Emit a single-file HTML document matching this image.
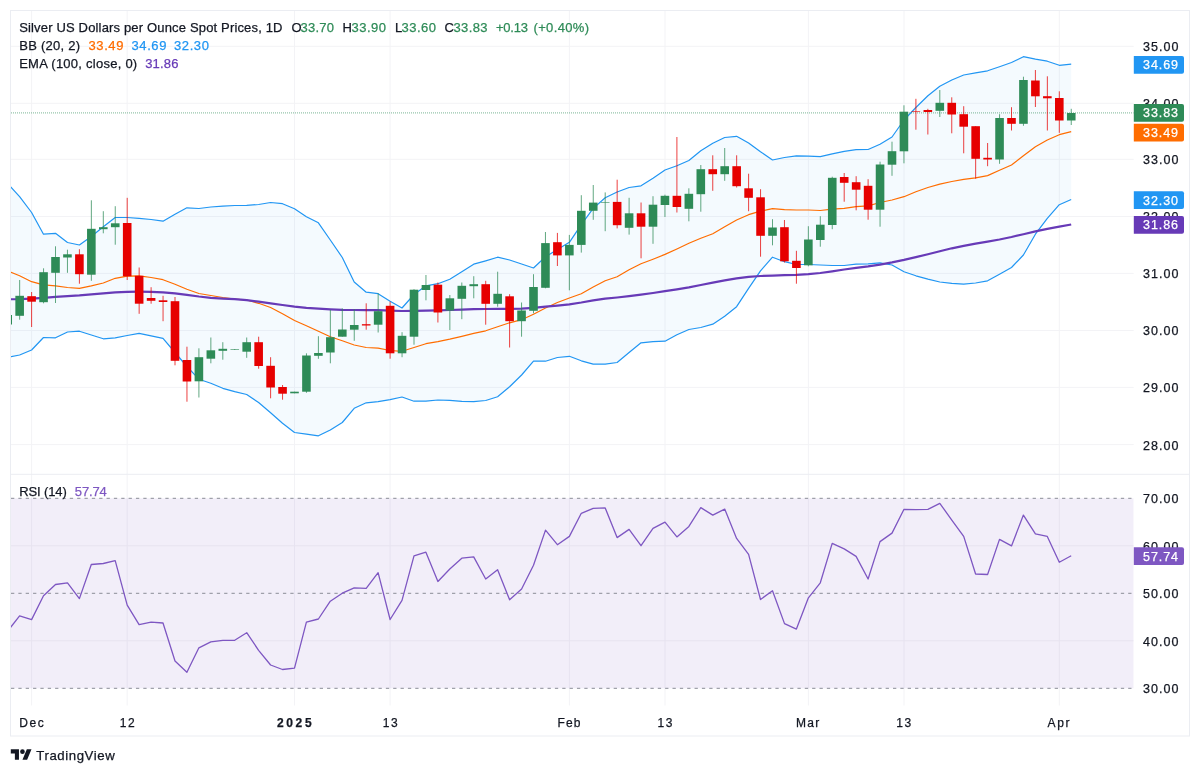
<!DOCTYPE html>
<html lang="en"><head><meta charset="utf-8"><title>Silver US Dollars per Ounce Spot Prices</title>
<style>html,body{margin:0;padding:0;background:#fff}body{width:1200px;height:774px;overflow:hidden}svg{display:block}</style></head>
<body>
<svg width="1200" height="774" viewBox="0 0 1200 774" font-family="'Liberation Sans', sans-serif">
<defs><clipPath id="p1"><rect x="10.5" y="10.5" width="1123.2" height="463.8"/></clipPath><clipPath id="p2"><rect x="10.5" y="474.3" width="1123.2" height="231.2"/></clipPath></defs>
<rect width="1200" height="774" fill="#fff"/>
<path d="M31.6 10.5V705.5M127.2 10.5V705.5M294.5 10.5V705.5M390.1 10.5V705.5M569.4 10.5V705.5M665.0 10.5V705.5M808.4 10.5V705.5M904.0 10.5V705.5M1059.3 10.5V705.5M10.5 444.6H1133.7M10.5 387.4H1133.7M10.5 330.5H1133.7M10.5 273.4H1133.7M10.5 216.5H1133.7M10.5 159.3H1133.7M10.5 103.3H1133.7M10.5 46.3H1133.7M10.5 640.8H1133.7M10.5 545.8H1133.7" stroke="#f3f3f6" stroke-width="1" fill="none"/>
<g clip-path="url(#p1)">
<polygon points="7.7,183.6 19.6,196.7 31.6,212.5 43.5,234.2 55.5,233.3 67.5,242.5 79.4,245.0 91.3,236.5 103.3,226.7 115.2,217.5 127.2,217.5 139.1,218.3 151.1,219.5 163.0,221.2 175.0,214.2 186.9,207.8 198.9,208.5 210.8,207.0 222.8,206.2 234.7,205.5 246.7,205.3 258.6,204.5 270.6,202.5 282.5,203.7 294.5,208.7 306.4,216.7 318.4,222.8 330.3,240.0 342.3,257.5 354.2,282.0 366.2,292.2 378.1,293.7 390.1,301.3 402.0,308.0 414.0,294.5 425.9,285.8 437.9,283.7 449.8,279.2 461.8,271.7 473.7,264.2 485.7,260.8 497.6,257.2 509.6,260.0 521.6,264.0 533.5,268.0 545.5,256.8 557.4,249.6 569.4,242.3 581.3,224.6 593.2,208.4 605.2,197.7 617.1,192.0 629.1,187.5 641.0,185.8 653.0,178.3 665.0,170.0 676.9,165.8 688.9,160.5 700.8,150.8 712.8,143.3 724.7,137.5 736.6,136.3 748.6,143.0 760.5,151.7 772.5,160.0 784.5,157.5 796.4,155.8 808.4,156.2 820.3,156.7 832.2,153.8 844.2,151.3 856.1,149.7 868.1,149.5 880.0,144.2 892.0,137.0 904.0,120.0 915.9,107.5 927.9,95.8 939.8,86.3 951.8,80.0 963.7,75.0 975.6,72.8 987.6,70.8 999.5,66.7 1011.5,62.5 1023.4,56.7 1035.4,59.2 1047.3,61.2 1059.3,65.3 1071.2,64.2 1071.2,199.5 1059.3,204.7 1047.3,218.3 1035.4,234.2 1023.4,255.0 1011.5,267.5 999.5,274.2 987.6,280.8 975.6,283.0 963.7,284.2 951.8,283.3 939.8,282.0 927.9,279.2 915.9,275.8 904.0,271.7 892.0,265.0 880.0,262.8 868.1,263.8 856.1,264.2 844.2,265.5 832.2,265.5 820.3,265.0 808.4,264.5 796.4,264.5 784.5,261.7 772.5,257.2 760.5,270.8 748.6,288.3 736.6,306.7 724.7,316.2 712.8,324.2 700.8,327.5 688.9,329.5 676.9,334.7 665.0,341.2 653.0,341.7 641.0,342.8 629.1,352.5 617.1,362.5 605.2,364.2 593.2,364.2 581.3,360.8 569.4,356.3 557.4,357.5 545.5,361.2 533.5,361.2 521.6,375.0 509.6,386.7 497.6,396.7 485.7,400.5 473.7,401.7 461.8,401.3 449.8,400.3 437.9,400.0 425.9,401.2 414.0,401.2 402.0,397.0 390.1,399.7 378.1,401.7 366.2,402.8 354.2,408.3 342.3,422.5 330.3,430.0 318.4,435.8 306.4,434.2 294.5,432.5 282.5,423.3 270.6,412.8 258.6,402.5 246.7,394.5 234.7,391.7 222.8,388.3 210.8,383.3 198.9,379.2 186.9,366.5 175.0,352.5 163.0,338.3 151.1,335.8 139.1,333.3 127.2,335.5 115.2,337.8 103.3,338.8 91.3,335.0 79.4,331.2 67.5,332.0 55.5,337.8 43.5,337.5 31.6,350.0 19.6,355.0 7.7,357.4" fill="#2196f3" fill-opacity="0.05"/>
<polyline points="7.7,271.0 19.6,275.8 31.6,281.7 43.5,284.9 55.5,285.9 67.5,287.5 79.4,288.3 91.3,285.8 103.3,283.0 115.2,278.3 127.2,276.2 139.1,275.8 151.1,277.5 163.0,279.7 175.0,284.2 186.9,289.2 198.9,293.5 210.8,295.5 222.8,297.5 234.7,299.2 246.7,300.0 258.6,303.3 270.6,307.5 282.5,313.8 294.5,320.5 306.4,325.7 318.4,331.3 330.3,336.7 342.3,340.8 354.2,345.0 366.2,347.5 378.1,348.2 390.1,350.5 402.0,351.3 414.0,347.5 425.9,343.7 437.9,341.7 449.8,339.2 461.8,336.3 473.7,333.3 485.7,330.8 497.6,326.7 509.6,322.8 521.6,319.7 533.5,314.2 545.5,308.0 557.4,302.5 569.4,298.0 581.3,293.7 593.2,287.0 605.2,280.8 617.1,276.7 629.1,269.7 641.0,263.8 653.0,259.2 665.0,254.4 676.9,249.0 688.9,243.3 700.8,238.3 712.8,233.7 724.7,226.7 736.6,220.0 748.6,214.7 760.5,211.2 772.5,208.7 784.5,209.7 796.4,210.0 808.4,210.0 820.3,210.5 832.2,209.2 844.2,208.3 856.1,206.7 868.1,205.8 880.0,202.5 892.0,200.0 904.0,196.7 915.9,191.7 927.9,187.5 939.8,184.2 951.8,181.5 963.7,179.3 975.6,177.9 987.6,175.6 999.5,170.3 1011.5,165.0 1023.4,155.8 1035.4,146.7 1047.3,140.0 1059.3,134.7 1071.2,131.7" fill="none" stroke="#ff6d00" stroke-width="1.2" stroke-linejoin="round" stroke-linecap="butt"/>
<polyline points="7.7,183.6 19.6,196.7 31.6,212.5 43.5,234.2 55.5,233.3 67.5,242.5 79.4,245.0 91.3,236.5 103.3,226.7 115.2,217.5 127.2,217.5 139.1,218.3 151.1,219.5 163.0,221.2 175.0,214.2 186.9,207.8 198.9,208.5 210.8,207.0 222.8,206.2 234.7,205.5 246.7,205.3 258.6,204.5 270.6,202.5 282.5,203.7 294.5,208.7 306.4,216.7 318.4,222.8 330.3,240.0 342.3,257.5 354.2,282.0 366.2,292.2 378.1,293.7 390.1,301.3 402.0,308.0 414.0,294.5 425.9,285.8 437.9,283.7 449.8,279.2 461.8,271.7 473.7,264.2 485.7,260.8 497.6,257.2 509.6,260.0 521.6,264.0 533.5,268.0 545.5,256.8 557.4,249.6 569.4,242.3 581.3,224.6 593.2,208.4 605.2,197.7 617.1,192.0 629.1,187.5 641.0,185.8 653.0,178.3 665.0,170.0 676.9,165.8 688.9,160.5 700.8,150.8 712.8,143.3 724.7,137.5 736.6,136.3 748.6,143.0 760.5,151.7 772.5,160.0 784.5,157.5 796.4,155.8 808.4,156.2 820.3,156.7 832.2,153.8 844.2,151.3 856.1,149.7 868.1,149.5 880.0,144.2 892.0,137.0 904.0,120.0 915.9,107.5 927.9,95.8 939.8,86.3 951.8,80.0 963.7,75.0 975.6,72.8 987.6,70.8 999.5,66.7 1011.5,62.5 1023.4,56.7 1035.4,59.2 1047.3,61.2 1059.3,65.3 1071.2,64.2" fill="none" stroke="#2196f3" stroke-width="1.2" stroke-linejoin="round" stroke-linecap="butt"/>
<polyline points="7.7,357.4 19.6,355.0 31.6,350.0 43.5,337.5 55.5,337.8 67.5,332.0 79.4,331.2 91.3,335.0 103.3,338.8 115.2,337.8 127.2,335.5 139.1,333.3 151.1,335.8 163.0,338.3 175.0,352.5 186.9,366.5 198.9,379.2 210.8,383.3 222.8,388.3 234.7,391.7 246.7,394.5 258.6,402.5 270.6,412.8 282.5,423.3 294.5,432.5 306.4,434.2 318.4,435.8 330.3,430.0 342.3,422.5 354.2,408.3 366.2,402.8 378.1,401.7 390.1,399.7 402.0,397.0 414.0,401.2 425.9,401.2 437.9,400.0 449.8,400.3 461.8,401.3 473.7,401.7 485.7,400.5 497.6,396.7 509.6,386.7 521.6,375.0 533.5,361.2 545.5,361.2 557.4,357.5 569.4,356.3 581.3,360.8 593.2,364.2 605.2,364.2 617.1,362.5 629.1,352.5 641.0,342.8 653.0,341.7 665.0,341.2 676.9,334.7 688.9,329.5 700.8,327.5 712.8,324.2 724.7,316.2 736.6,306.7 748.6,288.3 760.5,270.8 772.5,257.2 784.5,261.7 796.4,264.5 808.4,264.5 820.3,265.0 832.2,265.5 844.2,265.5 856.1,264.2 868.1,263.8 880.0,262.8 892.0,265.0 904.0,271.7 915.9,275.8 927.9,279.2 939.8,282.0 951.8,283.3 963.7,284.2 975.6,283.0 987.6,280.8 999.5,274.2 1011.5,267.5 1023.4,255.0 1035.4,234.2 1047.3,218.3 1059.3,204.7 1071.2,199.5" fill="none" stroke="#2196f3" stroke-width="1.2" stroke-linejoin="round" stroke-linecap="butt"/>
<polyline points="7.7,299.3 19.6,299.1 31.6,298.6 43.5,297.8 55.5,296.8 67.5,296.1 79.4,295.4 91.3,294.4 103.3,293.3 115.2,292.4 127.2,291.8 139.1,291.7 151.1,291.8 163.0,292.3 175.0,293.4 186.9,294.9 198.9,296.5 210.8,297.8 222.8,298.6 234.7,299.2 246.7,300.1 258.6,301.6 270.6,303.3 282.5,305.0 294.5,306.6 306.4,307.8 318.4,308.7 330.3,309.4 342.3,309.9 354.2,310.0 366.2,310.1 378.1,310.2 390.1,310.6 402.0,311.0 414.0,310.9 425.9,310.6 437.9,310.3 449.8,310.0 461.8,309.6 473.7,309.2 485.7,309.0 497.6,308.9 509.6,308.8 521.6,308.6 533.5,307.8 545.5,306.7 557.4,305.6 569.4,304.3 581.3,302.5 593.2,300.4 605.2,298.7 617.1,297.5 629.1,296.1 641.0,294.6 653.0,293.0 665.0,291.2 676.9,289.3 688.9,287.3 700.8,285.0 712.8,282.6 724.7,280.4 736.6,278.4 748.6,276.9 760.5,276.0 772.5,275.6 784.5,275.2 796.4,274.8 808.4,274.1 820.3,273.0 832.2,271.3 844.2,269.5 856.1,267.9 868.1,266.4 880.0,264.6 892.0,262.4 904.0,259.9 915.9,257.1 927.9,254.2 939.8,251.2 951.8,248.3 963.7,245.8 975.6,243.6 987.6,241.6 999.5,239.5 1011.5,237.0 1023.4,234.2 1035.4,231.4 1047.3,228.9 1059.3,226.7 1071.2,224.5" fill="none" stroke="#673ab7" stroke-width="2.2" stroke-linejoin="round" stroke-linecap="butt"/>
<path d="M11 112.9H1133.7" stroke="#2e8b57" stroke-opacity="0.5" stroke-width="1.2" stroke-dasharray="1 1"/>
<rect x="7.20" y="312.0" width="1" height="14.0" fill="#2e8b57" fill-opacity="0.75"/>
<rect x="3.40" y="315.0" width="8.6" height="9.5" fill="#2e8b57"/>
<rect x="19.15" y="280.0" width="1" height="39.7" fill="#2e8b57" fill-opacity="0.75"/>
<rect x="15.35" y="295.8" width="8.6" height="20.0" fill="#2e8b57"/>
<rect x="31.10" y="292.0" width="1" height="35.0" fill="#e60000" fill-opacity="0.75"/>
<rect x="27.30" y="296.2" width="8.6" height="5.5" fill="#e60000"/>
<rect x="43.05" y="268.3" width="1" height="35.0" fill="#2e8b57" fill-opacity="0.75"/>
<rect x="39.25" y="272.2" width="8.6" height="30.0" fill="#2e8b57"/>
<rect x="55.00" y="246.3" width="1" height="56.7" fill="#2e8b57" fill-opacity="0.75"/>
<rect x="51.20" y="257.0" width="8.6" height="15.8" fill="#2e8b57"/>
<rect x="66.95" y="249.7" width="1" height="23.1" fill="#2e8b57" fill-opacity="0.75"/>
<rect x="63.15" y="254.3" width="8.6" height="3.2" fill="#2e8b57"/>
<rect x="78.90" y="249.2" width="1" height="34.5" fill="#e60000" fill-opacity="0.75"/>
<rect x="75.10" y="254.3" width="8.6" height="19.9" fill="#e60000"/>
<rect x="90.85" y="200.3" width="1" height="80.5" fill="#2e8b57" fill-opacity="0.75"/>
<rect x="87.05" y="228.8" width="8.6" height="45.9" fill="#2e8b57"/>
<rect x="102.80" y="211.2" width="1" height="22.1" fill="#2e8b57" fill-opacity="0.75"/>
<rect x="99.00" y="227.2" width="8.6" height="2.0" fill="#2e8b57"/>
<rect x="114.75" y="206.2" width="1" height="38.5" fill="#2e8b57" fill-opacity="0.75"/>
<rect x="110.95" y="223.3" width="8.6" height="3.9" fill="#2e8b57"/>
<rect x="126.70" y="197.8" width="1" height="82.2" fill="#e60000" fill-opacity="0.75"/>
<rect x="122.90" y="223.0" width="8.6" height="53.3" fill="#e60000"/>
<rect x="138.65" y="267.5" width="1" height="46.3" fill="#e60000" fill-opacity="0.75"/>
<rect x="134.85" y="275.8" width="8.6" height="27.9" fill="#e60000"/>
<rect x="150.60" y="287.2" width="1" height="16.5" fill="#e60000" fill-opacity="0.75"/>
<rect x="146.80" y="298.0" width="8.6" height="2.8" fill="#e60000"/>
<rect x="162.55" y="295.8" width="1" height="25.4" fill="#e60000" fill-opacity="0.75"/>
<rect x="158.75" y="300.3" width="8.6" height="1.7" fill="#e60000"/>
<rect x="174.50" y="297.0" width="1" height="68.3" fill="#e60000" fill-opacity="0.75"/>
<rect x="170.70" y="301.2" width="8.6" height="59.6" fill="#e60000"/>
<rect x="186.45" y="346.7" width="1" height="55.0" fill="#e60000" fill-opacity="0.75"/>
<rect x="182.65" y="360.0" width="8.6" height="21.5" fill="#e60000"/>
<rect x="198.40" y="348.3" width="1" height="49.2" fill="#2e8b57" fill-opacity="0.75"/>
<rect x="194.60" y="357.2" width="8.6" height="24.1" fill="#2e8b57"/>
<rect x="210.35" y="337.5" width="1" height="25.8" fill="#2e8b57" fill-opacity="0.75"/>
<rect x="206.55" y="350.3" width="8.6" height="8.4" fill="#2e8b57"/>
<rect x="222.30" y="342.2" width="1" height="17.5" fill="#2e8b57" fill-opacity="0.75"/>
<rect x="218.50" y="348.8" width="8.6" height="2.0" fill="#2e8b57"/>
<rect x="234.25" y="349.0" width="1" height="1.0" fill="#2e8b57" fill-opacity="0.75"/>
<rect x="230.45" y="349.0" width="8.6" height="1.0" fill="#2e8b57" fill-opacity="0.6"/>
<rect x="246.20" y="337.5" width="1" height="20.3" fill="#2e8b57" fill-opacity="0.75"/>
<rect x="242.40" y="342.2" width="8.6" height="9.5" fill="#2e8b57"/>
<rect x="258.15" y="336.7" width="1" height="32.0" fill="#e60000" fill-opacity="0.75"/>
<rect x="254.35" y="342.2" width="8.6" height="23.8" fill="#e60000"/>
<rect x="270.10" y="357.2" width="1" height="41.1" fill="#e60000" fill-opacity="0.75"/>
<rect x="266.30" y="365.8" width="8.6" height="21.7" fill="#e60000"/>
<rect x="282.05" y="385.0" width="1" height="14.7" fill="#e60000" fill-opacity="0.75"/>
<rect x="278.25" y="387.0" width="8.6" height="6.7" fill="#e60000"/>
<rect x="294.00" y="391.7" width="1" height="1.6" fill="#2e8b57" fill-opacity="0.75"/>
<rect x="290.20" y="391.7" width="8.6" height="1.6" fill="#2e8b57"/>
<rect x="305.95" y="353.3" width="1" height="39.5" fill="#2e8b57" fill-opacity="0.75"/>
<rect x="302.15" y="355.5" width="8.6" height="36.2" fill="#2e8b57"/>
<rect x="317.90" y="336.2" width="1" height="22.6" fill="#2e8b57" fill-opacity="0.75"/>
<rect x="314.10" y="353.0" width="8.6" height="2.8" fill="#2e8b57"/>
<rect x="329.85" y="310.0" width="1" height="53.3" fill="#2e8b57" fill-opacity="0.75"/>
<rect x="326.05" y="337.2" width="8.6" height="15.3" fill="#2e8b57"/>
<rect x="341.80" y="308.3" width="1" height="28.4" fill="#2e8b57" fill-opacity="0.75"/>
<rect x="338.00" y="329.5" width="8.6" height="7.2" fill="#2e8b57"/>
<rect x="353.75" y="309.0" width="1" height="31.8" fill="#2e8b57" fill-opacity="0.75"/>
<rect x="349.95" y="325.0" width="8.6" height="4.7" fill="#2e8b57"/>
<rect x="365.70" y="303.3" width="1" height="26.4" fill="#e60000" fill-opacity="0.75"/>
<rect x="361.90" y="324.2" width="8.6" height="1.3" fill="#e60000"/>
<rect x="377.65" y="293.3" width="1" height="39.2" fill="#2e8b57" fill-opacity="0.75"/>
<rect x="373.85" y="311.2" width="8.6" height="13.5" fill="#2e8b57"/>
<rect x="389.60" y="301.7" width="1" height="57.0" fill="#e60000" fill-opacity="0.75"/>
<rect x="385.80" y="305.8" width="8.6" height="47.5" fill="#e60000"/>
<rect x="401.55" y="332.2" width="1" height="25.0" fill="#2e8b57" fill-opacity="0.75"/>
<rect x="397.75" y="335.8" width="8.6" height="17.5" fill="#2e8b57"/>
<rect x="413.50" y="289.2" width="1" height="55.5" fill="#2e8b57" fill-opacity="0.75"/>
<rect x="409.70" y="289.7" width="8.6" height="47.0" fill="#2e8b57"/>
<rect x="425.45" y="275.0" width="1" height="25.3" fill="#2e8b57" fill-opacity="0.75"/>
<rect x="421.65" y="285.0" width="8.6" height="5.0" fill="#2e8b57"/>
<rect x="437.40" y="282.5" width="1" height="40.0" fill="#e60000" fill-opacity="0.75"/>
<rect x="433.60" y="284.7" width="8.6" height="27.8" fill="#e60000"/>
<rect x="449.35" y="295.0" width="1" height="35.0" fill="#2e8b57" fill-opacity="0.75"/>
<rect x="445.55" y="298.3" width="8.6" height="12.2" fill="#2e8b57"/>
<rect x="461.30" y="282.5" width="1" height="36.7" fill="#2e8b57" fill-opacity="0.75"/>
<rect x="457.50" y="285.8" width="8.6" height="13.0" fill="#2e8b57"/>
<rect x="473.25" y="276.2" width="1" height="22.1" fill="#2e8b57" fill-opacity="0.75"/>
<rect x="469.45" y="284.2" width="8.6" height="2.0" fill="#2e8b57"/>
<rect x="485.20" y="280.8" width="1" height="43.9" fill="#e60000" fill-opacity="0.75"/>
<rect x="481.40" y="284.2" width="8.6" height="19.6" fill="#e60000"/>
<rect x="497.15" y="271.7" width="1" height="35.0" fill="#2e8b57" fill-opacity="0.75"/>
<rect x="493.35" y="293.8" width="8.6" height="10.0" fill="#2e8b57"/>
<rect x="509.10" y="294.2" width="1" height="53.3" fill="#e60000" fill-opacity="0.75"/>
<rect x="505.30" y="296.3" width="8.6" height="24.9" fill="#e60000"/>
<rect x="521.05" y="302.5" width="1" height="34.2" fill="#2e8b57" fill-opacity="0.75"/>
<rect x="517.25" y="310.5" width="8.6" height="10.7" fill="#2e8b57"/>
<rect x="533.00" y="274.2" width="1" height="39.1" fill="#2e8b57" fill-opacity="0.75"/>
<rect x="529.20" y="287.0" width="8.6" height="23.8" fill="#2e8b57"/>
<rect x="544.95" y="232.0" width="1" height="56.3" fill="#2e8b57" fill-opacity="0.75"/>
<rect x="541.15" y="243.1" width="8.6" height="44.7" fill="#2e8b57"/>
<rect x="556.90" y="232.9" width="1" height="33.1" fill="#e60000" fill-opacity="0.75"/>
<rect x="553.10" y="242.2" width="8.6" height="13.2" fill="#e60000"/>
<rect x="568.85" y="234.9" width="1" height="55.4" fill="#2e8b57" fill-opacity="0.75"/>
<rect x="565.05" y="244.9" width="8.6" height="10.5" fill="#2e8b57"/>
<rect x="580.80" y="195.2" width="1" height="57.4" fill="#2e8b57" fill-opacity="0.75"/>
<rect x="577.00" y="210.8" width="8.6" height="34.1" fill="#2e8b57"/>
<rect x="592.75" y="185.0" width="1" height="34.8" fill="#2e8b57" fill-opacity="0.75"/>
<rect x="588.95" y="202.6" width="8.6" height="8.2" fill="#2e8b57"/>
<rect x="604.70" y="192.4" width="1" height="38.8" fill="#2e8b57" fill-opacity="0.75"/>
<rect x="600.90" y="202.0" width="8.6" height="1.0" fill="#2e8b57" fill-opacity="0.6"/>
<rect x="616.65" y="179.7" width="1" height="48.7" fill="#e60000" fill-opacity="0.75"/>
<rect x="612.85" y="201.9" width="8.6" height="23.3" fill="#e60000"/>
<rect x="628.60" y="197.8" width="1" height="36.8" fill="#2e8b57" fill-opacity="0.75"/>
<rect x="624.80" y="213.3" width="8.6" height="14.5" fill="#2e8b57"/>
<rect x="640.55" y="202.5" width="1" height="55.8" fill="#e60000" fill-opacity="0.75"/>
<rect x="636.75" y="213.3" width="8.6" height="13.4" fill="#e60000"/>
<rect x="652.50" y="196.2" width="1" height="47.6" fill="#2e8b57" fill-opacity="0.75"/>
<rect x="648.70" y="204.7" width="8.6" height="22.0" fill="#2e8b57"/>
<rect x="664.45" y="194.7" width="1" height="22.3" fill="#2e8b57" fill-opacity="0.75"/>
<rect x="660.65" y="195.8" width="8.6" height="9.2" fill="#2e8b57"/>
<rect x="676.40" y="137.0" width="1" height="75.5" fill="#e60000" fill-opacity="0.75"/>
<rect x="672.60" y="195.8" width="8.6" height="11.2" fill="#e60000"/>
<rect x="688.35" y="188.3" width="1" height="33.0" fill="#2e8b57" fill-opacity="0.75"/>
<rect x="684.55" y="193.8" width="8.6" height="15.0" fill="#2e8b57"/>
<rect x="700.30" y="165.0" width="1" height="46.7" fill="#2e8b57" fill-opacity="0.75"/>
<rect x="696.50" y="169.2" width="8.6" height="25.0" fill="#2e8b57"/>
<rect x="712.25" y="155.3" width="1" height="35.5" fill="#e60000" fill-opacity="0.75"/>
<rect x="708.45" y="169.2" width="8.6" height="5.0" fill="#e60000"/>
<rect x="724.20" y="148.0" width="1" height="32.8" fill="#2e8b57" fill-opacity="0.75"/>
<rect x="720.40" y="166.2" width="8.6" height="8.0" fill="#2e8b57"/>
<rect x="736.15" y="155.3" width="1" height="32.2" fill="#e60000" fill-opacity="0.75"/>
<rect x="732.35" y="166.2" width="8.6" height="20.0" fill="#e60000"/>
<rect x="748.10" y="173.7" width="1" height="37.5" fill="#e60000" fill-opacity="0.75"/>
<rect x="744.30" y="188.3" width="8.6" height="9.5" fill="#e60000"/>
<rect x="760.05" y="189.2" width="1" height="67.5" fill="#e60000" fill-opacity="0.75"/>
<rect x="756.25" y="197.3" width="8.6" height="38.5" fill="#e60000"/>
<rect x="772.00" y="219.2" width="1" height="26.1" fill="#2e8b57" fill-opacity="0.75"/>
<rect x="768.20" y="227.5" width="8.6" height="8.3" fill="#2e8b57"/>
<rect x="783.95" y="220.0" width="1" height="42.5" fill="#e60000" fill-opacity="0.75"/>
<rect x="780.15" y="227.2" width="8.6" height="34.1" fill="#e60000"/>
<rect x="795.90" y="250.8" width="1" height="32.9" fill="#e60000" fill-opacity="0.75"/>
<rect x="792.10" y="260.8" width="8.6" height="7.2" fill="#e60000"/>
<rect x="807.85" y="226.2" width="1" height="40.1" fill="#2e8b57" fill-opacity="0.75"/>
<rect x="804.05" y="239.5" width="8.6" height="25.8" fill="#2e8b57"/>
<rect x="819.80" y="216.2" width="1" height="30.5" fill="#2e8b57" fill-opacity="0.75"/>
<rect x="816.00" y="224.7" width="8.6" height="15.3" fill="#2e8b57"/>
<rect x="831.75" y="176.7" width="1" height="52.5" fill="#2e8b57" fill-opacity="0.75"/>
<rect x="827.95" y="177.8" width="8.6" height="47.2" fill="#2e8b57"/>
<rect x="843.70" y="173.0" width="1" height="28.7" fill="#e60000" fill-opacity="0.75"/>
<rect x="839.90" y="177.0" width="8.6" height="5.8" fill="#e60000"/>
<rect x="855.65" y="176.2" width="1" height="34.1" fill="#e60000" fill-opacity="0.75"/>
<rect x="851.85" y="182.2" width="8.6" height="7.5" fill="#e60000"/>
<rect x="867.60" y="179.2" width="1" height="40.5" fill="#e60000" fill-opacity="0.75"/>
<rect x="863.80" y="185.8" width="8.6" height="23.9" fill="#e60000"/>
<rect x="879.55" y="161.7" width="1" height="65.0" fill="#2e8b57" fill-opacity="0.75"/>
<rect x="875.75" y="164.5" width="8.6" height="45.2" fill="#2e8b57"/>
<rect x="891.50" y="141.7" width="1" height="34.1" fill="#2e8b57" fill-opacity="0.75"/>
<rect x="887.70" y="151.2" width="8.6" height="13.5" fill="#2e8b57"/>
<rect x="903.45" y="105.3" width="1" height="58.0" fill="#2e8b57" fill-opacity="0.75"/>
<rect x="899.65" y="111.7" width="8.6" height="39.6" fill="#2e8b57"/>
<rect x="915.40" y="98.8" width="1" height="30.9" fill="#e60000" fill-opacity="0.75"/>
<rect x="911.60" y="111.0" width="8.6" height="1.0" fill="#e60000" fill-opacity="0.6"/>
<rect x="927.35" y="108.8" width="1" height="25.7" fill="#e60000" fill-opacity="0.75"/>
<rect x="923.55" y="110.0" width="8.6" height="2.0" fill="#e60000"/>
<rect x="939.30" y="90.0" width="1" height="27.0" fill="#2e8b57" fill-opacity="0.75"/>
<rect x="935.50" y="102.8" width="8.6" height="8.0" fill="#2e8b57"/>
<rect x="951.25" y="97.3" width="1" height="36.0" fill="#e60000" fill-opacity="0.75"/>
<rect x="947.45" y="102.8" width="8.6" height="11.7" fill="#e60000"/>
<rect x="963.20" y="106.2" width="1" height="47.1" fill="#e60000" fill-opacity="0.75"/>
<rect x="959.40" y="114.2" width="8.6" height="12.5" fill="#e60000"/>
<rect x="975.15" y="126.2" width="1" height="52.5" fill="#e60000" fill-opacity="0.75"/>
<rect x="971.35" y="126.2" width="8.6" height="32.6" fill="#e60000"/>
<rect x="987.10" y="143.0" width="1" height="23.2" fill="#e60000" fill-opacity="0.75"/>
<rect x="983.30" y="157.8" width="8.6" height="1.7" fill="#e60000"/>
<rect x="999.05" y="114.2" width="1" height="49.6" fill="#2e8b57" fill-opacity="0.75"/>
<rect x="995.25" y="118.0" width="8.6" height="41.5" fill="#2e8b57"/>
<rect x="1011.00" y="107.2" width="1" height="23.3" fill="#e60000" fill-opacity="0.75"/>
<rect x="1007.20" y="118.0" width="8.6" height="5.8" fill="#e60000"/>
<rect x="1022.95" y="76.7" width="1" height="49.1" fill="#2e8b57" fill-opacity="0.75"/>
<rect x="1019.15" y="80.0" width="8.6" height="43.8" fill="#2e8b57"/>
<rect x="1034.90" y="70.0" width="1" height="37.0" fill="#e60000" fill-opacity="0.75"/>
<rect x="1031.10" y="80.5" width="8.6" height="15.8" fill="#e60000"/>
<rect x="1046.85" y="76.3" width="1" height="54.2" fill="#e60000" fill-opacity="0.75"/>
<rect x="1043.05" y="96.2" width="8.6" height="2.1" fill="#e60000"/>
<rect x="1058.80" y="91.3" width="1" height="41.5" fill="#e60000" fill-opacity="0.75"/>
<rect x="1055.00" y="98.0" width="8.6" height="22.5" fill="#e60000"/>
<rect x="1070.75" y="108.8" width="1" height="16.2" fill="#2e8b57" fill-opacity="0.75"/>
<rect x="1066.95" y="113.0" width="8.6" height="7.5" fill="#2e8b57"/>
</g>
<g clip-path="url(#p2)">
<rect x="10.5" y="498.3" width="1123.2" height="190.0" fill="#7e57c2" fill-opacity="0.1"/>
<path d="M10.5 498.3H1133.7" stroke="#8a8c97" stroke-width="1" stroke-dasharray="3.3 4.05" stroke-dashoffset="-0.5"/>
<path d="M10.5 593.3H1133.7" stroke="#8a8c97" stroke-width="1" stroke-dasharray="3.3 4.05" stroke-dashoffset="-0.5"/>
<path d="M10.5 688.3H1133.7" stroke="#8a8c97" stroke-width="1" stroke-dasharray="3.3 4.05" stroke-dashoffset="-0.5"/>
<polyline points="7.7,631.0 19.6,615.9 31.6,619.6 43.5,595.8 55.5,584.5 67.5,582.8 79.4,598.6 91.3,564.5 103.3,563.5 115.2,560.7 127.2,605.2 139.1,624.6 151.1,622.1 163.0,623.0 175.0,661.0 186.9,672.2 198.9,647.8 210.8,641.9 222.8,640.3 234.7,640.3 246.7,632.7 258.6,650.3 270.6,665.0 282.5,669.5 294.5,668.2 306.4,622.1 318.4,619.0 330.3,601.2 342.3,593.2 354.2,587.9 366.2,588.3 378.1,572.7 390.1,619.5 402.0,600.3 414.0,555.9 425.9,552.2 437.9,581.5 449.8,569.0 461.8,558.2 473.7,556.9 485.7,579.0 497.6,569.7 509.6,599.8 521.6,589.0 533.5,565.2 545.5,530.1 557.4,544.7 569.4,536.4 581.3,513.3 593.2,508.3 605.2,507.9 617.1,537.6 629.1,529.4 641.0,545.7 653.0,528.4 665.0,522.1 676.9,536.9 688.9,526.4 700.8,507.6 712.8,515.1 724.7,509.1 736.6,538.4 748.6,554.4 760.5,599.5 772.5,590.8 784.5,623.6 796.4,629.1 808.4,597.8 820.3,582.8 832.2,543.4 844.2,548.9 856.1,556.4 868.1,579.0 880.0,541.6 892.0,533.1 904.0,509.3 915.9,509.6 927.9,509.3 939.8,503.3 951.8,520.1 963.7,536.4 975.6,574.0 987.6,574.5 999.5,539.4 1011.5,545.9 1023.4,515.1 1035.4,533.9 1047.3,536.4 1059.3,562.2 1071.2,555.7" fill="none" stroke="#7e57c2" stroke-width="1.3" stroke-linejoin="round" stroke-linecap="butt"/>
</g>
<path d="M10.5 474.3H1189.5" stroke="#ebedf2" stroke-width="1"/>
<rect x="10.5" y="10.5" width="1179.0" height="725.5" fill="none" stroke="#ebedf2" stroke-width="1"/>
<text x="1143.0" y="449.5" font-size="12.5" fill="#131722" stroke="#131722" stroke-width="0.25" textLength="35.4" lengthAdjust="spacing">28.00</text>
<text x="1143.0" y="392.3" font-size="12.5" fill="#131722" stroke="#131722" stroke-width="0.25" textLength="35.4" lengthAdjust="spacing">29.00</text>
<text x="1143.0" y="335.4" font-size="12.5" fill="#131722" stroke="#131722" stroke-width="0.25" textLength="35.4" lengthAdjust="spacing">30.00</text>
<text x="1143.0" y="278.3" font-size="12.5" fill="#131722" stroke="#131722" stroke-width="0.25" textLength="35.4" lengthAdjust="spacing">31.00</text>
<text x="1143.0" y="221.4" font-size="12.5" fill="#131722" stroke="#131722" stroke-width="0.25" textLength="35.4" lengthAdjust="spacing">32.00</text>
<text x="1143.0" y="164.2" font-size="12.5" fill="#131722" stroke="#131722" stroke-width="0.25" textLength="35.4" lengthAdjust="spacing">33.00</text>
<text x="1143.0" y="108.2" font-size="12.5" fill="#131722" stroke="#131722" stroke-width="0.25" textLength="35.4" lengthAdjust="spacing">34.00</text>
<text x="1143.0" y="51.2" font-size="12.5" fill="#131722" stroke="#131722" stroke-width="0.25" textLength="35.4" lengthAdjust="spacing">35.00</text>
<text x="1143.0" y="693.2" font-size="12.5" fill="#131722" stroke="#131722" stroke-width="0.25" textLength="35.4" lengthAdjust="spacing">30.00</text>
<text x="1143.0" y="645.7" font-size="12.5" fill="#131722" stroke="#131722" stroke-width="0.25" textLength="35.4" lengthAdjust="spacing">40.00</text>
<text x="1143.0" y="598.2" font-size="12.5" fill="#131722" stroke="#131722" stroke-width="0.25" textLength="35.4" lengthAdjust="spacing">50.00</text>
<text x="1143.0" y="550.7" font-size="12.5" fill="#131722" stroke="#131722" stroke-width="0.25" textLength="35.4" lengthAdjust="spacing">60.00</text>
<text x="1143.0" y="503.2" font-size="12.5" fill="#131722" stroke="#131722" stroke-width="0.25" textLength="35.4" lengthAdjust="spacing">70.00</text>
<path d="M1133.8 191.2H1182a2 2 0 0 1 2 2V207.0a2 2 0 0 1 -2 2H1133.8z" fill="#2196f3"/>
<text x="1143.0" y="204.5" font-size="12.5" fill="#fff" stroke="#fff" stroke-width="0.25" textLength="35.0" lengthAdjust="spacing">32.30</text>
<path d="M1133.8 216.0H1182a2 2 0 0 1 2 2V231.8a2 2 0 0 1 -2 2H1133.8z" fill="#673ab7"/>
<text x="1143.0" y="229.3" font-size="12.5" fill="#fff" stroke="#fff" stroke-width="0.25" textLength="35.0" lengthAdjust="spacing">31.86</text>
<path d="M1133.8 123.8H1182a2 2 0 0 1 2 2V139.6a2 2 0 0 1 -2 2H1133.8z" fill="#ff6d00"/>
<text x="1143.0" y="137.1" font-size="12.5" fill="#fff" stroke="#fff" stroke-width="0.25" textLength="35.0" lengthAdjust="spacing">33.49</text>
<path d="M1133.8 55.9H1182a2 2 0 0 1 2 2V71.7a2 2 0 0 1 -2 2H1133.8z" fill="#2196f3"/>
<text x="1143.0" y="69.2" font-size="12.5" fill="#fff" stroke="#fff" stroke-width="0.25" textLength="35.0" lengthAdjust="spacing">34.69</text>
<path d="M1133.8 104.0H1182a2 2 0 0 1 2 2V119.8a2 2 0 0 1 -2 2H1133.8z" fill="#2e8b57"/>
<text x="1143.0" y="117.3" font-size="12.5" fill="#fff" stroke="#fff" stroke-width="0.25" textLength="35.0" lengthAdjust="spacing">33.83</text>
<path d="M1133.8 547.3H1182a2 2 0 0 1 2 2V563.1a2 2 0 0 1 -2 2H1133.8z" fill="#7e57c2"/>
<text x="1143.0" y="560.6" font-size="12.5" fill="#fff" stroke="#fff" stroke-width="0.25" textLength="35.0" lengthAdjust="spacing">57.74</text>
<text x="31.5" y="726.6" font-size="12" fill="#131722" stroke="#131722" stroke-width="0.25" textLength="24.3" lengthAdjust="spacing" text-anchor="middle">Dec</text>
<text x="127.3" y="726.6" font-size="12" fill="#131722" stroke="#131722" stroke-width="0.25" textLength="14.9" lengthAdjust="spacing" text-anchor="middle">12</text>
<text x="294.3" y="726.6" font-size="12" fill="#131722" stroke="#131722" stroke-width="0.25" font-weight="bold" textLength="34.6" lengthAdjust="spacing" text-anchor="middle">2025</text>
<text x="390.2" y="726.6" font-size="12" fill="#131722" stroke="#131722" stroke-width="0.25" textLength="15.1" lengthAdjust="spacing" text-anchor="middle">13</text>
<text x="569.0" y="726.6" font-size="12" fill="#131722" stroke="#131722" stroke-width="0.25" textLength="22.8" lengthAdjust="spacing" text-anchor="middle">Feb</text>
<text x="665.0" y="726.6" font-size="12" fill="#131722" stroke="#131722" stroke-width="0.25" textLength="15.1" lengthAdjust="spacing" text-anchor="middle">13</text>
<text x="807.7" y="726.6" font-size="12" fill="#131722" stroke="#131722" stroke-width="0.25" textLength="23.3" lengthAdjust="spacing" text-anchor="middle">Mar</text>
<text x="903.7" y="726.6" font-size="12" fill="#131722" stroke="#131722" stroke-width="0.25" textLength="15.1" lengthAdjust="spacing" text-anchor="middle">13</text>
<text x="1058.6" y="726.6" font-size="12" fill="#131722" stroke="#131722" stroke-width="0.25" textLength="22.0" lengthAdjust="spacing" text-anchor="middle">Apr</text>
<text x="19.2" y="32.1" font-size="13" fill="#131722" stroke="#131722" stroke-width="0.25" textLength="263.3" lengthAdjust="spacing">Silver US Dollars per Ounce Spot Prices, 1D</text>
<text x="291.5" y="32.1" font-size="13" fill="#131722" stroke="#131722" stroke-width="0.25">O</text>
<text x="300.5" y="32.1" font-size="13" fill="#2e8b57" stroke="#2e8b57" stroke-width="0.25" textLength="33.5" lengthAdjust="spacing">33.70</text>
<text x="342.5" y="32.1" font-size="13" fill="#131722" stroke="#131722" stroke-width="0.25">H</text>
<text x="351.5" y="32.1" font-size="13" fill="#2e8b57" stroke="#2e8b57" stroke-width="0.25" textLength="34.5" lengthAdjust="spacing">33.90</text>
<text x="395.0" y="32.1" font-size="13" fill="#131722" stroke="#131722" stroke-width="0.25">L</text>
<text x="401.5" y="32.1" font-size="13" fill="#2e8b57" stroke="#2e8b57" stroke-width="0.25" textLength="34.5" lengthAdjust="spacing">33.60</text>
<text x="444.5" y="32.1" font-size="13" fill="#131722" stroke="#131722" stroke-width="0.25">C</text>
<text x="453.5" y="32.1" font-size="13" fill="#2e8b57" stroke="#2e8b57" stroke-width="0.25" textLength="34.0" lengthAdjust="spacing">33.83</text>
<text x="496.0" y="32.1" font-size="13" fill="#2e8b57" stroke="#2e8b57" stroke-width="0.25" textLength="32.0" lengthAdjust="spacing">+0.13</text>
<text x="533.5" y="32.1" font-size="13" fill="#2e8b57" stroke="#2e8b57" stroke-width="0.25" textLength="55.5" lengthAdjust="spacing">(+0.40%)</text>
<text x="19.2" y="50.0" font-size="13" fill="#131722" stroke="#131722" stroke-width="0.25" textLength="61.0" lengthAdjust="spacing">BB (20, 2)</text>
<text x="88.5" y="50.0" font-size="13" fill="#ff6d00" stroke="#ff6d00" stroke-width="0.25" textLength="34.9" lengthAdjust="spacing">33.49</text>
<text x="131.5" y="50.0" font-size="13" fill="#2196f3" stroke="#2196f3" stroke-width="0.25" textLength="34.9" lengthAdjust="spacing">34.69</text>
<text x="174.0" y="50.0" font-size="13" fill="#2196f3" stroke="#2196f3" stroke-width="0.25" textLength="34.9" lengthAdjust="spacing">32.30</text>
<text x="19.2" y="68.3" font-size="13" fill="#131722" stroke="#131722" stroke-width="0.25" textLength="118.0" lengthAdjust="spacing">EMA (100, close, 0)</text>
<text x="145.2" y="68.3" font-size="13" fill="#673ab7" stroke="#673ab7" stroke-width="0.25" textLength="33.2" lengthAdjust="spacing">31.86</text>
<text x="19.2" y="496.3" font-size="13" fill="#131722" stroke="#131722" stroke-width="0.25" textLength="47.6" lengthAdjust="spacing">RSI (14)</text>
<text x="74.8" y="496.3" font-size="13" fill="#7e57c2" stroke="#7e57c2" stroke-width="0.25" textLength="32.0" lengthAdjust="spacing">57.74</text>
<g transform="translate(10.8 746.97) scale(0.583)" fill="#131722"><path d="M14 22H7V11H0V4h14v18zM28 22h-8l7.5-18h8L28 22z"/><circle cx="20" cy="8" r="4"/></g>
<text x="36.3" y="760.0" font-size="13.2" fill="#131722" stroke="#131722" stroke-width="0.25" textLength="78.4" lengthAdjust="spacing">TradingView</text>
</svg>
</body></html>
